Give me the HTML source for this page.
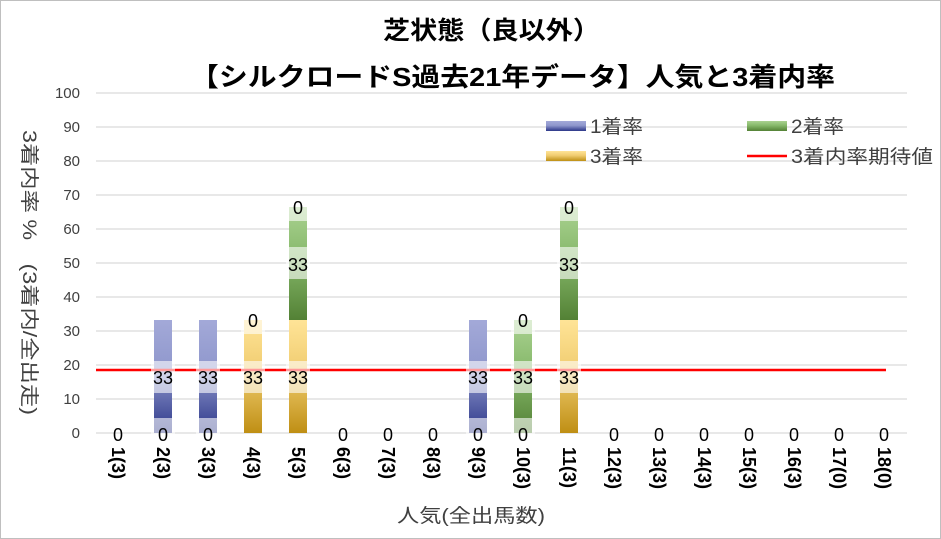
<!DOCTYPE html>
<html><head><meta charset="utf-8"><style>
html,body{margin:0;padding:0;background:#fff}
svg{display:block}
text{font-family:"Liberation Sans","Noto Sans CJK JP",sans-serif}
</style></head><body>
<svg width="941" height="539" xmlns="http://www.w3.org/2000/svg">
<defs>
<linearGradient id="gb" x1="0" y1="0" x2="0" y2="1"><stop offset="0" stop-color="#a3a9d8"/><stop offset="0.45" stop-color="#8f97cc"/><stop offset="1" stop-color="#2c3789"/></linearGradient>
<linearGradient id="gg" x1="0" y1="0" x2="0" y2="1"><stop offset="0" stop-color="#aad291"/><stop offset="0.45" stop-color="#86b86a"/><stop offset="1" stop-color="#538135"/></linearGradient>
<linearGradient id="gy" x1="0" y1="0" x2="0" y2="1"><stop offset="0" stop-color="#ffe497"/><stop offset="0.45" stop-color="#f0cc70"/><stop offset="1" stop-color="#bf8f14"/></linearGradient>
</defs>
<rect x="0.5" y="0.5" width="940" height="538" fill="#fff" stroke="#bfbfbf"/>
<text x="383" y="39" textLength="217" lengthAdjust="spacingAndGlyphs" font-size="25" font-weight="bold" fill="#000">芝状態（良以外）</text>
<text x="190" y="86" textLength="645" lengthAdjust="spacingAndGlyphs" font-size="26" font-weight="bold" fill="#000">【シルクロードS過去21年データ】人気と3着内率</text>
<g stroke="#d9d9d9" stroke-width="1.3">
<line x1="96" x2="907" y1="93" y2="93"/><line x1="96" x2="907" y1="127" y2="127"/><line x1="96" x2="907" y1="161" y2="161"/><line x1="96" x2="907" y1="195" y2="195"/><line x1="96" x2="907" y1="229" y2="229"/><line x1="96" x2="907" y1="263" y2="263"/><line x1="96" x2="907" y1="297" y2="297"/><line x1="96" x2="907" y1="331" y2="331"/><line x1="96" x2="907" y1="365" y2="365"/><line x1="96" x2="907" y1="399" y2="399"/><line x1="96" x2="907" y1="433" y2="433"/>
</g>
<g font-size="15" fill="#404040" text-anchor="end">
<text x="80" y="98">100</text><text x="80" y="132">90</text><text x="80" y="166">80</text><text x="80" y="200">70</text><text x="80" y="234">60</text><text x="80" y="268">50</text><text x="80" y="302">40</text><text x="80" y="336">30</text><text x="80" y="370">20</text><text x="80" y="404">10</text><text x="80" y="438">0</text>
</g>
<text transform="translate(23,130) rotate(90)" textLength="285" lengthAdjust="spacingAndGlyphs" font-size="19" fill="#404040">3着内率 %　(3着内/全出走)</text>
<rect x="154" y="320" width="18" height="113" fill="url(#gb)"/>
<rect x="199" y="320" width="18" height="113" fill="url(#gb)"/>
<rect x="469" y="320" width="18" height="113" fill="url(#gb)"/>
<rect x="244" y="320" width="18" height="113" fill="url(#gy)"/>
<rect x="289" y="320" width="18" height="113" fill="url(#gy)"/>
<rect x="289" y="207" width="18" height="113" fill="url(#gg)"/>
<rect x="514" y="320" width="18" height="113" fill="url(#gg)"/>
<rect x="560" y="320" width="18" height="113" fill="url(#gy)"/>
<rect x="560" y="207" width="18" height="113" fill="url(#gg)"/>
<line x1="96" x2="886" y1="370" y2="370" stroke="#ff0000" stroke-width="2.5"/>
<g fill="#fff" fill-opacity="0.6">
<rect x="151" y="361" width="24" height="32"/><rect x="196" y="361" width="24" height="32"/><rect x="241" y="361" width="24" height="32"/><rect x="286" y="361" width="24" height="32"/><rect x="466" y="361" width="24" height="32"/><rect x="511" y="361" width="24" height="32"/><rect x="557" y="361" width="24" height="32"/>
<rect x="286" y="247" width="24" height="32"/><rect x="557" y="247" width="24" height="32"/>
<rect x="241" y="312" width="24" height="22"/><rect x="511" y="312" width="24" height="22"/>
<rect x="286" y="199" width="24" height="22"/><rect x="557" y="199" width="24" height="22"/>
<rect x="151" y="418" width="24" height="16"/><rect x="196" y="418" width="24" height="16"/><rect x="466" y="418" width="24" height="16"/><rect x="511" y="418" width="24" height="16"/>
</g>
<g font-size="18" fill="#000" text-anchor="middle">
<text x="163" y="384">33</text><text x="208" y="384">33</text><text x="253" y="384">33</text><text x="298" y="384">33</text><text x="478" y="384">33</text><text x="523" y="384">33</text><text x="569" y="384">33</text>
<text x="298" y="271">33</text><text x="569" y="271">33</text>
<text x="253" y="327">0</text><text x="523" y="327">0</text><text x="298" y="214">0</text><text x="569" y="214">0</text>
<text x="118" y="441">0</text><text x="163" y="441">0</text><text x="208" y="441">0</text><text x="343" y="441">0</text><text x="388" y="441">0</text><text x="433" y="441">0</text><text x="478" y="441">0</text><text x="523" y="441">0</text><text x="614" y="441">0</text><text x="659" y="441">0</text><text x="704" y="441">0</text><text x="749" y="441">0</text><text x="794" y="441">0</text><text x="839" y="441">0</text><text x="884" y="441">0</text>
</g>
<g font-size="18" font-weight="bold" fill="#000">
<text transform="translate(112,447) rotate(90)">1(3)</text>
<text transform="translate(157,447) rotate(90)">2(3)</text>
<text transform="translate(202,447) rotate(90)">3(3)</text>
<text transform="translate(247,447) rotate(90)">4(3)</text>
<text transform="translate(292,447) rotate(90)">5(3)</text>
<text transform="translate(337,447) rotate(90)">6(3)</text>
<text transform="translate(382,447) rotate(90)">7(3)</text>
<text transform="translate(427,447) rotate(90)">8(3)</text>
<text transform="translate(472,447) rotate(90)">9(3)</text>
<text transform="translate(517,447) rotate(90)">10(3)</text>
<text transform="translate(563,447) rotate(90)">11(3)</text>
<text transform="translate(608,447) rotate(90)">12(3)</text>
<text transform="translate(653,447) rotate(90)">13(3)</text>
<text transform="translate(698,447) rotate(90)">14(3)</text>
<text transform="translate(743,447) rotate(90)">15(3)</text>
<text transform="translate(788,447) rotate(90)">16(3)</text>
<text transform="translate(833,447) rotate(90)">17(0)</text>
<text transform="translate(878,447) rotate(90)">18(0)</text>
</g>
<text x="397" y="522" textLength="148" lengthAdjust="spacingAndGlyphs" font-size="19" fill="#404040">人気(全出馬数)</text>
<rect x="546" y="121" width="40" height="10" fill="url(#gb)"/>
<text x="590" y="133" textLength="53" lengthAdjust="spacingAndGlyphs" font-size="19" fill="#404040">1着率</text>
<rect x="747" y="121" width="40" height="10" fill="url(#gg)"/>
<text x="791" y="133" textLength="53" lengthAdjust="spacingAndGlyphs" font-size="19" fill="#404040">2着率</text>
<rect x="546" y="151" width="40" height="10" fill="url(#gy)"/>
<text x="590" y="163" textLength="53" lengthAdjust="spacingAndGlyphs" font-size="19" fill="#404040">3着率</text>
<line x1="747" x2="787" y1="156" y2="156" stroke="#ff0000" stroke-width="2.5"/>
<text x="791" y="163" textLength="142" lengthAdjust="spacingAndGlyphs" font-size="19" fill="#404040">3着内率期待値</text>
</svg>
</body></html>
